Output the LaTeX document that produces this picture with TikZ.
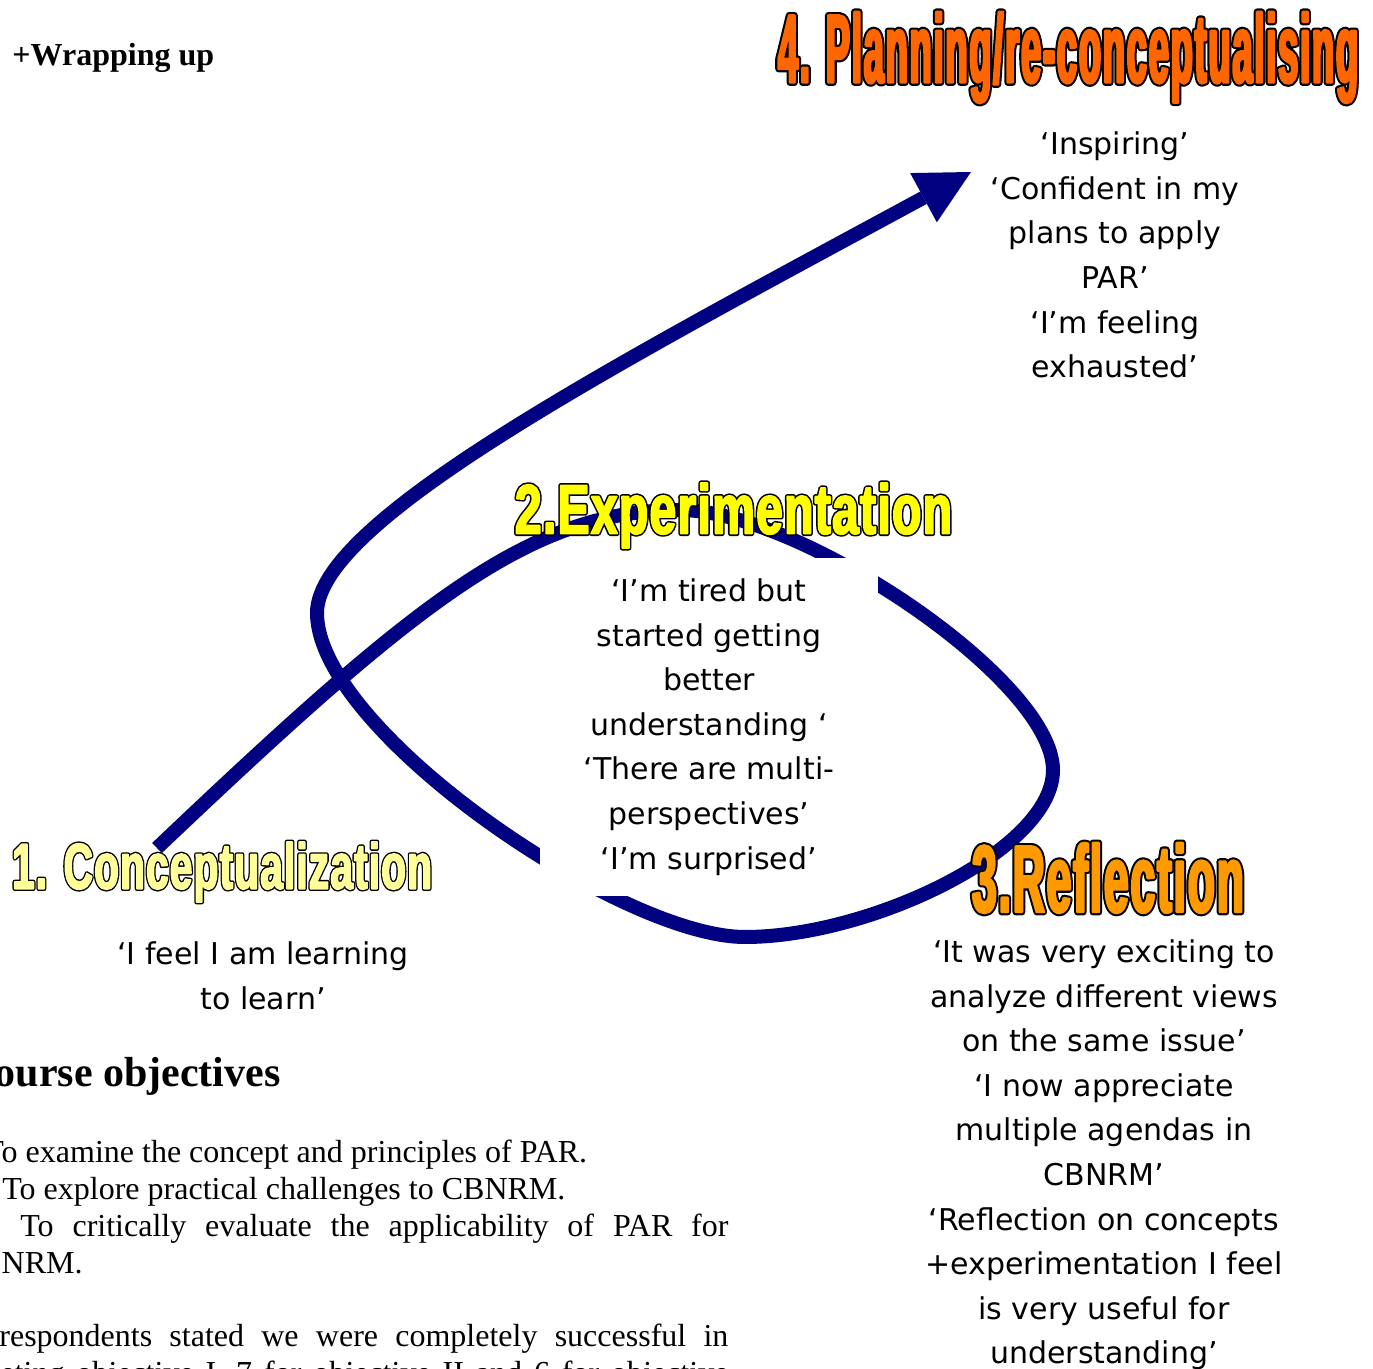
\documentclass[tikz,border=0pt]{standalone}
\usepackage{fontspec}
\usepackage{graphicx}
\usepackage{xcolor}
\usetikzlibrary{arrows.meta, positioning}
\setmainfont{Liberation Serif}
\newfontfamily\quotefont{DejaVu Sans}
\newfontfamily\artfont{Liberation Sans}
\definecolor{spiralblue}{RGB}{0,0,128}
\definecolor{paleyellow}{RGB}{255,255,153}
\definecolor{brightyellow}{RGB}{255,255,0}
\definecolor{amber}{RGB}{255,153,0}
\definecolor{deeporange}{RGB}{255,102,0}
\newcommand{\wordart}[5]{\resizebox*{#3}{#4}{\artfont\bfseries\addfontfeatures{FakeStretch=#2, LetterSpace=2}\fontsize{40}{40}\selectfont
    \rlap{\color{black}\special{pdf:literal direct 2 Tr 2.9 w 1 j}#5}%
    \color{#1}\special{pdf:literal direct 2 Tr 1.1 w 1 j}#5\special{pdf:literal direct 0 Tr 0.4 w 0 j}}}

\begin{document}
\begin{tikzpicture}[x=0.5pt, y=-0.5pt,
        spiral/.style={draw=spiralblue, line width=7pt,
            -{Triangle[length=27pt, width=28pt, line width=0pt]}},
        quote/.style={font=\quotefont\fontsize{15}{22.3}\selectfont, align=center, inner sep=0pt},
        body/.style={font=\fontsize{16}{18.5}\selectfont, inner sep=0pt, anchor=base west},
        title/.style={inner sep=0pt}]

    \useasboundingbox (0,0) rectangle (1373,1369);
    \clip (0,0) rectangle (1373,1369);

    \coordinate (loopstart) at (157,848);
    \coordinate (looptop) at (680,510);
    \coordinate (loopright) at (1053,770);
    \coordinate (loopbottom) at (745,937);
    \coordinate (loopleft) at (317,613);
    \coordinate (looptip) at (971,172);

    \draw[spiral] (loopstart) .. controls (417,601) and (530,510) .. (looptop)
        .. controls (800,510) and (1053,680) .. (loopright)
        .. controls (1053,850) and (870,937) .. (loopbottom)
        .. controls (620,937) and (317,730) .. (loopleft)
        .. controls (317,520) and (620,362) .. (looptip);

    \node[quote, fill=white, minimum width=169pt, minimum height=169pt] (expquote) at (709,727)
        {‘I’m tired but\\started getting\\better\\understanding ‘\\‘There are multi-\\perspectives’\\‘I’m surprised’};

    \node[title] (planning) at (1068,57.5)
        {\wordart{deeporange}{0.40}{290pt}{45.5pt}{4. Planning/re-conceptualising}};
    \node[title] (experiment) at (733.5,515.5)
        {\wordart{brightyellow}{0.70}{218.5pt}{32.5pt}{2.Experimentation}};
    \node[title] (conceptual) at (222,872)
        {\wordart{paleyellow}{0.71}{210pt}{30pt}{1. Conceptualization}};
    \node[title] (reflect) at (1108,878)
        {\wordart{amber}{0.50}{136pt}{35pt}{3.Reflection}};

    \node[quote] (planquote) at (1115,255)
        {‘Inspiring’\\‘Confident in my\\plans to apply\\PAR’\\‘I’m feeling\\exhausted’};
    \node[quote] (conceptquote) at (263,976)
        {‘I feel I am learning\\to learn’};
    \node[quote] (reflquote) at (1104,1155)
        {‘It was very exciting to\\analyze different views\\on the same issue’\\‘I now appreciate\\multiple agendas in\\CBNRM’\\‘Reflection on concepts\\+experimentation I feel\\is very useful for\\understanding’};

    \node[anchor=base west, font=\bfseries\fontsize{16}{19}\selectfont, inner sep=0pt] (wrapup) at (12,66) {+Wrapping up};
    \node[anchor=base east, font=\bfseries\fontsize{21}{25}\selectfont, inner sep=0pt] (objhead) at (281,1087) {Course objectives};

    \node[body] (objone) at (-16,1162) {To examine the concept and principles of PAR.};
    \node[body] (objtwo) at (2,1199) {To explore practical challenges to CBNRM.};
    \node[body] (objthree) at (20,1236) {\makebox[354pt][s]{To critically evaluate the applicability of PAR for}};
    \node[body, anchor=base east] (objthreeend) at (83,1273) {CBNRM.};
    \node[body] (resultone) at (-1,1346) {\makebox[364.5pt][s]{respondents stated we were completely successful in}};
    \node[body] (resulttwo) at (-39,1383) {\makebox[383.5pt][s]{meeting objective I, 7 for objective II and 6 for objective}};
\end{tikzpicture}
\end{document}
